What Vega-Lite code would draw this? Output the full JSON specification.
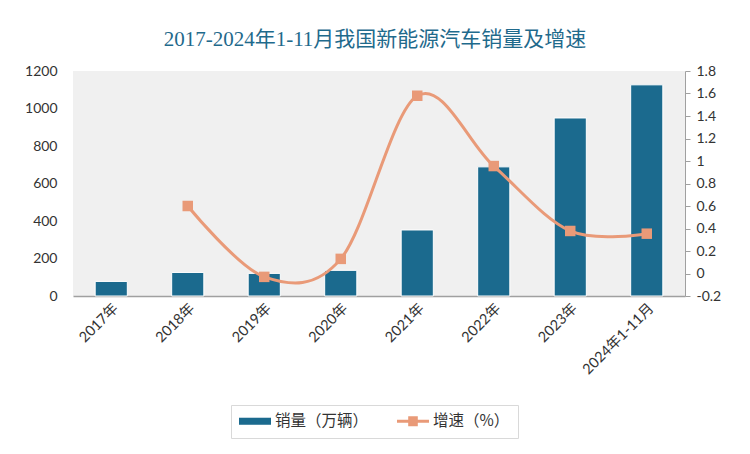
{
  "$schema": "https://vega.github.io/schema/vega-lite/v6.json",
  "width": 612,
  "height": 225,
  "autosize": {"type": "none"},
  "padding": {"left": 73, "top": 71, "right": 65, "bottom": 158},
  "background": "white",
  "title": {
    "text": "2017-2024年1-11月我国新能源汽车销量及增速",
    "font": "Liberation Serif, Noto Sans CJK SC",
    "fontSize": 21,
    "fontWeight": "normal",
    "color": "#1F6A8C",
    "anchor": "middle",
    "dx": -4,
    "offset": 14
  },
  "config": {
    "view": {"fill": "#F0F0F0", "stroke": null},
    "axis": {"grid": false, "labelFont": "Lato, Noto Sans CJK SC", "labelFontSize": 14, "labelColor": "#333333"}
  },
  "data": {
    "values": [
      {"year": "2017年", "sales": 77.7, "growth": null},
      {"year": "2018年", "sales": 125.6, "growth": 0.60},
      {"year": "2019年", "sales": 120.6, "growth": -0.03},
      {"year": "2020年", "sales": 136.7, "growth": 0.13},
      {"year": "2021年", "sales": 352.1, "growth": 1.58},
      {"year": "2022年", "sales": 688.7, "growth": 0.955},
      {"year": "2023年", "sales": 949.5, "growth": 0.378},
      {"year": "2024年1-11月", "sales": 1126.2, "growth": 0.354}
    ]
  },
  "encoding": {
    "x": {
      "field": "year",
      "type": "nominal",
      "sort": null,
      "scale": {"paddingInner": 0.58, "paddingOuter": 0.29},
      "axis": {
        "title": null,
        "labelAngle": -45,
        "labelAlign": "right",
        "labelBaseline": "top",
        "labelPadding": 5,
        "labelFontSize": 14.5,
        "ticks": false,
        "domainColor": "#A0A0A0",
        "domainWidth": 1.5
      }
    }
  },
  "layer": [
    {
      "mark": {"type": "bar", "stroke": "white", "strokeWidth": 1},
      "encoding": {
        "y": {
          "field": "sales",
          "type": "quantitative",
          "scale": {"domain": [0, 1200], "nice": false},
          "axis": {
            "title": null,
            "values": [0, 200, 400, 600, 800, 1000, 1200],
            "format": "d",
            "domain": false,
            "ticks": false,
            "labelPadding": 16
          }
        },
        "color": {
          "datum": "销量（万辆）",
          "scale": {"domain": ["销量（万辆）", "增速（%）"], "range": ["#1B6A8E", "#E99A78"]},
          "legend": {
            "title": null,
            "orient": "none",
            "legendX": 158,
            "legendY": 334,
            "direction": "horizontal",
            "padding": 8,
            "strokeColor": "#D9D9D9",
            "fillColor": "white",
            "labelFont": "Noto Sans CJK SC",
            "labelFontSize": 15.5,
            "labelColor": "#333333",
            "labelOffset": 20,
            "columnPadding": 28,
            "symbolSize": 256,
            "symbolStrokeWidth": 0,
            "symbolType": {"expr": "datum.value === '销量（万辆）' ? 'M-1,-0.44H3V0.44H-1Z' : 'M-1,-0.18H3V0.18H-1Z M0.4,-0.62H1.6V0.62H0.4Z'"},
            "encode": {
              "symbols": {
                "update": {
                  "fill": {"signal": "datum.value === '销量（万辆）' ? '#1B6A8E' : '#E99A78'"},
                  "stroke": {"value": null},
                  "opacity": {"value": 1}
                }
              }
            }
          }
        }
      }
    },
    {
      "transform": [{"filter": "datum.growth !== null"}],
      "mark": {"type": "line", "interpolate": "cardinal", "tension": 0, "strokeWidth": 3},
      "encoding": {
        "y": {
          "field": "growth",
          "type": "quantitative",
          "scale": {"domain": [-0.2, 1.8], "nice": false, "zero": false},
          "axis": {
            "title": null,
            "orient": "right",
            "values": [-0.2, 0, 0.2, 0.4, 0.6, 0.8, 1, 1.2, 1.4, 1.6, 1.8],
            "labelExpr": "'' + datum.value",
            "domainColor": "#A0A0A0",
            "tickColor": "#A0A0A0",
            "tickSize": 5,
            "labelPadding": 6
          }
        },
        "color": {"datum": "增速（%）"}
      }
    },
    {
      "transform": [{"filter": "datum.growth !== null"}],
      "mark": {"type": "point", "shape": "square", "filled": true, "size": 110, "opacity": 1},
      "encoding": {
        "y": {"field": "growth", "type": "quantitative", "scale": {"domain": [-0.2, 1.8], "nice": false, "zero": false}, "axis": null},
        "color": {"datum": "增速（%）"}
      }
    }
  ],
  "resolve": {"scale": {"y": "independent"}}
}
